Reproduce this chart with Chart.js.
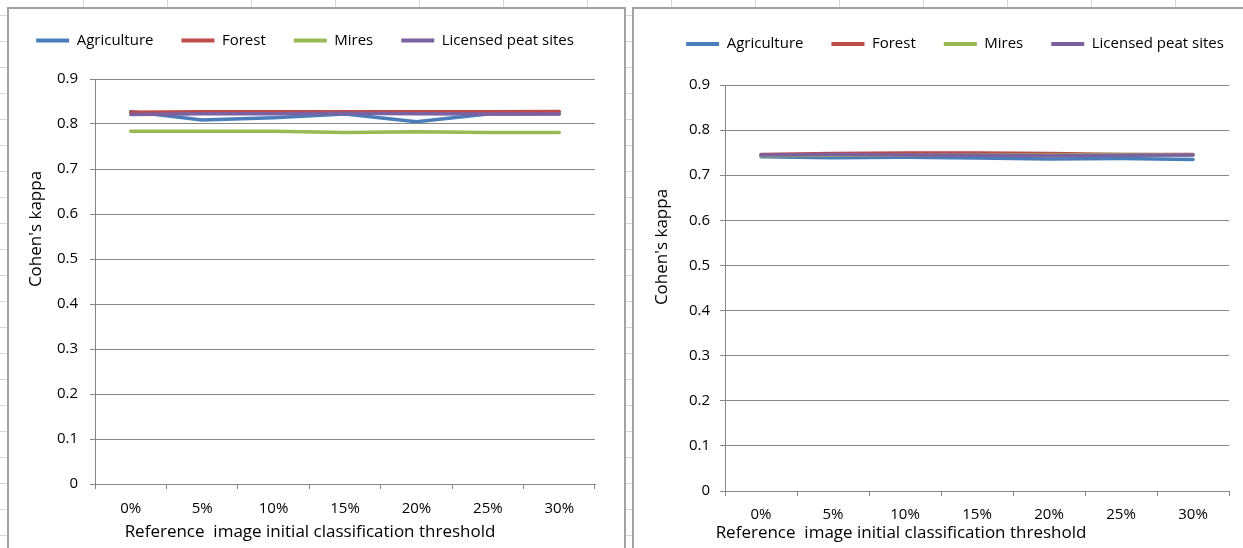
<!DOCTYPE html>
<html>
<head>
<meta charset="utf-8">
<script src="https://cdn.jsdelivr.net/npm/chart.js@4/dist/chart.umd.min.js"></script>
<style>
  html, body { margin: 0; padding: 0; }
  body {
    width: 1243px; height: 548px; overflow: hidden; position: relative;
    background-color: #fff;
    background-image:
      linear-gradient(to right, #d6d6d6 1px, transparent 1px),
      linear-gradient(to bottom, #d6d6d6 1px, transparent 1px);
    background-size: 84px 100%, 100% 26px;
    background-position: 83px 0, 0 15px;
  }
  .panel { position: absolute; background: #fff; border: 2px solid #a3a3a3; box-sizing: border-box; }
  #panelA { left: 7px; top: 7px; width: 619px; height: 600px; }
  #panelB { left: 632px; top: 7px; width: 700px; height: 600px; }
  canvas { position: absolute; }
  #chartA { left: -10px; top: 5px; }
  #chartB { left: 652px; top: 5px; }
</style>
</head>
<body>
<div class="panel" id="panelA"></div>
<div class="panel" id="panelB"></div>
<canvas id="chartA" width="630" height="543"></canvas>
<canvas id="chartB" width="606" height="543"></canvas>
<script>
// Categories and labels
const thresholds = ['0%', '5%', '10%', '15%', '20%', '25%', '30%'];
const seriesNames = ['Agriculture', 'Forest', 'Mires', 'Licensed peat sites'];
const seriesColors = ['#4a7ebb', '#be4b48', '#98b954', '#7d60a0'];
const yTickLabels = ['0', '0.1', '0.2', '0.3', '0.4', '0.5', '0.6', '0.7', '0.8', '0.9'];
const yAxisTitle = "Cohen's kappa";
const xAxisTitle = 'Reference  image initial classification threshold';

// Kappa values, left panel
const agricultureA = [0.828, 0.809, 0.814, 0.822, 0.805, 0.822, 0.823];
const forestA      = [0.826, 0.827, 0.827, 0.827, 0.827, 0.827, 0.828];
const miresA       = [0.784, 0.784, 0.784, 0.781, 0.783, 0.781, 0.781];
const licensedA    = [0.821, 0.823, 0.823, 0.824, 0.823, 0.822, 0.822];

// Kappa values, right panel
const agricultureB = [0.741, 0.739, 0.740, 0.738, 0.736, 0.737, 0.735];
const forestB      = [0.746, 0.748, 0.749, 0.749, 0.748, 0.746, 0.746];
const miresB       = [0.743, 0.744, 0.744, 0.745, 0.745, 0.746, 0.745];
const licensedB    = [0.745, 0.746, 0.745, 0.744, 0.743, 0.744, 0.745];

const FONT_FAMILY = '"Open Sans", Lato, sans-serif';
Chart.defaults.font.family = FONT_FAMILY;
Chart.defaults.font.size = 15;
Chart.defaults.color = '#000';

// Draws the two axis captions at offsets from the plot area
const axisCaptions = {
  id: 'axisCaptions',
  afterDraw(chart, args, opts) {
    const { ctx, chartArea } = chart;
    ctx.save();
    ctx.font = '17px ' + FONT_FAMILY;
    ctx.fillStyle = '#000';
    ctx.textAlign = 'center';
    ctx.textBaseline = 'middle';
    ctx.fillText(opts.xText, chartArea.left + opts.xDx, chartArea.bottom + opts.xDy);
    ctx.translate(chartArea.left - opts.yDx, chartArea.top + opts.yDy);
    ctx.rotate(-Math.PI / 2);
    ctx.fillText(opts.yText, 0, 0);
    ctx.restore();
  }
};

function makeChart(canvasId, seriesValues, box) {
  const datasets = seriesValues.map((vals, i) => ({
    label: seriesNames[i],
    data: vals,
    borderColor: seriesColors[i],
    backgroundColor: seriesColors[i],
    borderWidth: 3.5,
    pointRadius: 0,
    tension: 0,
    borderCapStyle: 'round',
    borderJoinStyle: 'round',
    yAxisID: 'y',
    order: seriesValues.length - i
  }));

  return new Chart(document.getElementById(canvasId), {
    type: 'line',
    data: { labels: thresholds, datasets },
    plugins: [axisCaptions],
    options: {
      responsive: false,
      animation: false,
      layout: { padding: { top: box.padTop, right: 0, left: 0, bottom: 0 } },
      plugins: {
        tooltip: { enabled: false },
        legend: {
          position: 'top',
          labels: {
            boxWidth: 33,
            boxHeight: 4,
            padding: 28,
            color: '#000',
            sort: (a, b) => a.datasetIndex - b.datasetIndex,
            generateLabels(chart) {
              const items = Chart.defaults.plugins.legend.labels.generateLabels(chart);
              items.forEach(it => { it.lineWidth = 0; it.fillStyle = it.strokeStyle; });
              return items;
            }
          }
        },
        // empty spacer between the legend and the plot
        title: { display: true, text: '', weight: 500, font: { size: 1, lineHeight: 1 }, padding: { top: 0, bottom: box.spacer } },
        axisCaptions: {
          xText: xAxisTitle, yText: yAxisTitle,
          xDx: box.xDx, xDy: box.xDy, yDx: box.yDx, yDy: box.yDy
        }
      },
      scales: {
        x: {
          offset: true,
          afterFit: s => { s.height = box.xHeight; },
          grid: { offset: true, drawOnChartArea: false, drawTicks: true, tickLength: 5, color: '#868686' },
          border: { display: true, color: '#868686', width: 1 },
          ticks: { padding: box.xTickPad, maxRotation: 0, color: '#000' }
        },
        y: {
          min: 0,
          max: 0.9,
          afterFit: s => { s.width = box.yWidth; },
          ticks: {
            stepSize: 0.1,
            padding: box.yTickPad,
            color: '#000',
            callback: (v, i) => yTickLabels[i]
          },
          grid: { color: '#868686', lineWidth: 1, tickLength: 5, drawTicks: true },
          border: { display: true, color: '#868686', width: 1 }
        },
        // blank margin to the right of the plot
        margin: {
          type: 'linear',
          position: 'right',
          afterFit: s => { s.width = box.rightGap; },
          grid: { display: false, drawTicks: false },
          ticks: { display: false },
          border: { display: false }
        }
      }
    }
  });
}

makeChart('chartA', [agricultureA, forestA, miresA, licensedA], {
  padTop: 0, spacer: 20, yWidth: 105, rightGap: 25,
  xHeight: 64, xTickPad: 11, yTickPad: 12,
  xDx: 215, xDy: 48, yDx: 59, yDy: 150
});

makeChart('chartB', [agricultureB, forestB, miresB, licensedB], {
  padTop: 3.5, spacer: 22.5, yWidth: 73, rightGap: 29,
  xHeight: 57, xTickPad: 9.5, yTickPad: 10,
  xDx: 176, xDy: 42, yDx: 63, yDy: 162
});
</script>
</body>
</html>
